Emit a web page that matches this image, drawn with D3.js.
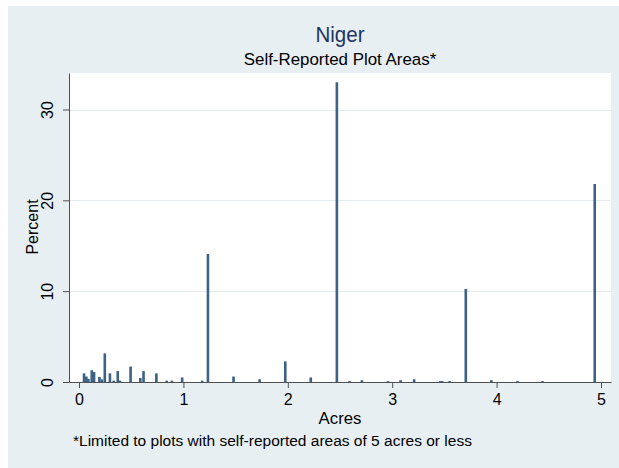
<!DOCTYPE html>
<html><head><meta charset="utf-8">
<script src="https://cdn.jsdelivr.net/npm/d3@7"></script>
<style>
html,body{margin:0;padding:0;background:#fff;}
svg{display:block;font-family:"Liberation Sans",Arial,Helvetica,sans-serif;}
</style></head>
<body>
<svg id="chart" width="619" height="468"></svg>
<script>
// Data
const acres   = [0.048,0.07,0.09,0.122,0.144,0.195,0.218,0.247,0.296,0.332,0.371,0.392,0.494,0.587,0.618,0.741,0.84,0.89,0.988,1.18,1.235,1.48,1.73,1.976,2.22,2.47,2.59,2.71,2.96,3.08,3.21,3.46,3.48,3.55,3.705,3.95,4.2,4.44,4.94];
const percent = [0.95,0.6,0.35,1.3,1.1,0.55,0.3,3.15,0.95,0.15,1.2,0.15,1.7,0.45,1.2,0.95,0.15,0.15,0.5,0.15,14.1,0.6,0.3,2.27,0.5,33.0,0.1,0.2,0.1,0.2,0.3,0.1,0.1,0.1,10.25,0.2,0.1,0.1,21.8];
const xTicks = [0,1,2,3,4,5];
const yTicks = [0,10,20,30];
const titleText = "Niger";
const subtitleText = "Self-Reported Plot Areas*";
const xLabel = "Acres";
const yLabel = "Percent";
const noteText = "*Limited to plots with self-reported areas of 5 acres or less";
const binWidth = 0.025;

const svg = d3.select("#chart");
const bg = "#e8eff2";
svg.append("rect").attr("x",8).attr("y",6).attr("width",611).attr("height",462).attr("fill",bg);

const x = d3.scaleLinear().domain([-0.096,5.096]).range([69,611]);
const y = d3.scaleLinear().domain([0,34.02]).range([382,73]);

// plot region
svg.append("rect").attr("x",x.range()[0]).attr("y",y.range()[1])
  .attr("width",x.range()[1]-x.range()[0]).attr("height",y.range()[0]-y.range()[1]).attr("fill","#fff");

// gridlines
svg.append("g").selectAll("line").data(yTicks.filter(d=>d>0)).join("line")
  .attr("x1",x.range()[0]).attr("x2",x.range()[1])
  .attr("y1",d=>Math.round(y(d))+0.5).attr("y2",d=>Math.round(y(d))+0.5)
  .attr("stroke","#e3ebef").attr("stroke-width",1.2);

// bars
const data = acres.map((a,i)=>({a, p: percent[i]}));
svg.append("g").selectAll("rect").data(data).join("rect")
  .attr("x",d=>x(d.a-binWidth/2))
  .attr("width",d=>x(d.a+binWidth/2)-x(d.a-binWidth/2))
  .attr("y",d=>y(d.p))
  .attr("height",d=>y(0)-y(d.p))
  .attr("fill","#3d6283");

// axes
const axisColor = "#505050";
const xAxis = svg.append("g").attr("transform",`translate(0,${y(0)})`)
  .call(d3.axisBottom(x).tickValues(xTicks).tickFormat(d3.format("d")).tickSize(6).tickSizeOuter(0));
xAxis.select(".domain").attr("stroke",axisColor);
xAxis.selectAll(".tick line").attr("stroke",axisColor);
xAxis.selectAll(".tick text").attr("font-size",16).attr("fill","#000").attr("font-family","Liberation Sans, Arial, sans-serif").attr("dy",null).attr("y",23);

const yAxis = svg.append("g").attr("transform",`translate(${x.range()[0]},0)`)
  .call(d3.axisLeft(y).tickValues(yTicks).tickFormat(d3.format("d")).tickSize(6).tickSizeOuter(0));
yAxis.select(".domain").attr("stroke",axisColor);
yAxis.selectAll(".tick line").attr("stroke",axisColor);
yAxis.selectAll(".tick text")
  .attr("font-size",16).attr("fill","#000").attr("font-family","Liberation Sans, Arial, sans-serif")
  .attr("x",null).attr("dy",null)
  .attr("text-anchor","middle")
  .attr("transform","translate(-16,0) rotate(-90)");

// titles
svg.append("text").attr("x",340).attr("y",42).attr("text-anchor","middle")
  .attr("font-size",22).attr("fill","#1e3461").attr("textLength",49).attr("lengthAdjust","spacingAndGlyphs").text(titleText);
svg.append("text").attr("x",340).attr("y",64.5).attr("text-anchor","middle")
  .attr("font-size",16.9).attr("fill","#000").text(subtitleText);
svg.append("text").attr("x",340).attr("y",424).attr("text-anchor","middle")
  .attr("font-size",16.8).attr("fill","#000").text(xLabel);
svg.append("text").attr("transform","translate(38,227) rotate(-90)").attr("text-anchor","middle")
  .attr("font-size",16).attr("fill","#000").text(yLabel);
svg.append("text").attr("x",73).attr("y",446).attr("text-anchor","start")
  .attr("font-size",15.5).attr("fill","#000").text(noteText);
</script>
</body></html>
